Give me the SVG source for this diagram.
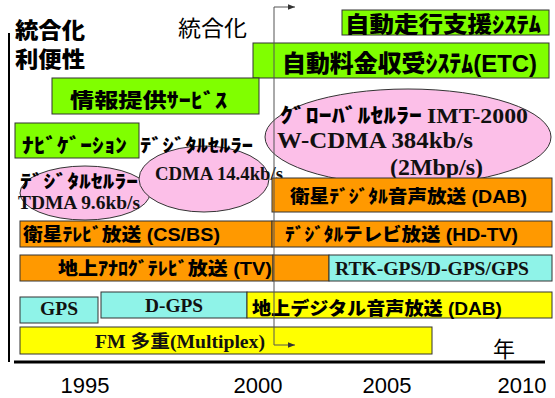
<svg xmlns="http://www.w3.org/2000/svg" width="555" height="398" viewBox="0 0 555 398">
<defs>
<style>
.box{stroke:#333;stroke-width:1}
.g{fill:#80FF00}.o{fill:#FF9900}.c{fill:#8FF3E8}.y{fill:#FFFF00}
.el{fill:#FCBFE8;stroke:#333;stroke-width:1}
.jb{font-family:"Liberation Sans","Noto Sans CJK JP",sans-serif;font-weight:900;fill:#000}
.sb{font-family:"Liberation Serif","Noto Sans CJK JP",serif;font-weight:bold;fill:#111}
.n{font-family:"Liberation Sans","Noto Sans CJK JP",sans-serif;font-weight:normal;fill:#000}
.tl{stroke:#555;stroke-width:1;fill:none}
</style>
<marker id="arr" viewBox="0 0 10 10" refX="10" refY="5" markerWidth="7" markerHeight="7" orient="auto">
<path d="M0,1 L10,5 L0,9 z" fill="#333"/>
</marker>
</defs>
<rect width="555" height="398" fill="#fff"/>

<g id="axes">
<line x1="9" y1="33" x2="9" y2="362" stroke="#000" stroke-width="2"/>
<line x1="14" y1="362" x2="545" y2="362" stroke="#000" stroke-width="3"/>
<text class="jb" x="15" y="38" font-size="22" textLength="70" lengthAdjust="spacingAndGlyphs">統合化</text>
<text class="jb" x="15" y="67" font-size="22" textLength="70" lengthAdjust="spacingAndGlyphs">利便性</text>
<text class="n" x="178" y="36" font-size="22" textLength="69" lengthAdjust="spacingAndGlyphs">統合化</text>
<text class="n" x="493" y="357" font-size="22">年</text>
<text class="n" x="85" y="393" font-size="22" text-anchor="middle">1995</text>
<text class="n" x="258" y="393" font-size="22" text-anchor="middle">2000</text>
<text class="n" x="387" y="393" font-size="22" text-anchor="middle">2005</text>
<text class="n" x="522" y="393" font-size="22" text-anchor="middle">2010</text>
</g>

<g id="n-jidousoukou">
<rect class="box g" x="342" y="10" width="207" height="25"/>
<text class="jb" x="345" y="32" font-size="22" textLength="196" lengthAdjust="spacingAndGlyphs">自動走行支援ｼｽﾃﾑ</text>
</g>
<g id="n-etc">
<rect class="box g" x="253" y="43" width="296" height="35"/>
<text class="jb" x="282" y="72" font-size="24" textLength="255" lengthAdjust="spacingAndGlyphs">自動料金収受ｼｽﾃﾑ(ETC)</text>
</g>
<g id="n-jouhou">
<rect class="box g" x="52" y="78" width="207" height="36"/>
<text class="jb" x="70" y="108" font-size="20" textLength="157" lengthAdjust="spacingAndGlyphs">情報提供ｻｰﾋﾞｽ</text>
</g>
<g id="n-navi">
<rect class="box g" x="15" y="123" width="124" height="35"/>
<text class="jb" x="22" y="153" font-size="20" textLength="105" lengthAdjust="spacingAndGlyphs">ﾅﾋﾞｹﾞｰｼｮﾝ</text>
</g>

<g id="n-imt">
<ellipse class="el" cx="408" cy="137" rx="143" ry="48"/>
<text class="jb" x="280" y="123" font-size="20" textLength="142" lengthAdjust="spacingAndGlyphs">ｸﾞﾛｰﾊﾞﾙｾﾙﾗｰ</text>
<text class="sb" x="427" y="123" font-size="22" textLength="101" lengthAdjust="spacingAndGlyphs">IMT-2000</text>
<text class="sb" x="277" y="148" font-size="23" textLength="196" lengthAdjust="spacingAndGlyphs">W-CDMA 384kb/s</text>
<text class="sb" x="390" y="175" font-size="23" textLength="93" lengthAdjust="spacingAndGlyphs">(2Mbp/s)</text>
</g>

<g id="n-tdma">
<ellipse class="el" cx="85" cy="193" rx="65" ry="27"/>
<text class="jb" x="20" y="188" font-size="18" textLength="118" lengthAdjust="spacingAndGlyphs">ﾃﾞｼﾞﾀﾙｾﾙﾗｰ</text>
<text class="sb" x="18" y="209" font-size="18" textLength="122" lengthAdjust="spacingAndGlyphs">TDMA 9.6kb/s</text>
</g>
<g id="n-cdma">
<ellipse class="el" cx="204" cy="179" rx="65" ry="33"/>
<text class="jb" x="140" y="152" font-size="18" textLength="113" lengthAdjust="spacingAndGlyphs">ﾃﾞｼﾞﾀﾙｾﾙﾗｰ</text>
<text class="sb" x="155" y="180" font-size="18" textLength="128" lengthAdjust="spacingAndGlyphs">CDMA 14.4kb/s</text>
</g>

<g id="n-dab-sat">
<rect class="box o" x="272" y="178" width="280" height="34"/>
<text class="jb" x="290" y="203" font-size="18" textLength="237" lengthAdjust="spacingAndGlyphs">衛星ﾃﾞｼﾞﾀﾙ音声放送 (DAB)</text>
</g>
<g id="n-csbs">
<rect class="box o" x="20" y="221" width="252" height="26"/>
<text class="jb" x="23" y="241" font-size="18" textLength="197" lengthAdjust="spacingAndGlyphs">衛星ﾃﾚﾋﾞ放送 (CS/BS)</text>
</g>
<g id="n-hdtv">
<rect class="box o" x="272" y="221" width="280" height="26"/>
<text class="jb" x="285" y="241" font-size="18" textLength="233" lengthAdjust="spacingAndGlyphs">ﾃﾞｼﾞﾀﾙテレビ放送 (HD-TV)</text>
</g>
<g id="n-tv">
<rect class="box o" x="20" y="255" width="253" height="26"/>
<rect class="box o" x="273" y="255" width="56" height="26"/>
<text class="jb" x="58" y="275" font-size="18" textLength="214" lengthAdjust="spacingAndGlyphs">地上ｱﾅﾛｸﾞﾃﾚﾋﾞ放送 (TV)</text>
</g>
<g id="n-rtk">
<rect class="box c" x="329" y="255" width="223" height="26"/>
<text class="sb" x="335" y="275" font-size="19" textLength="194" lengthAdjust="spacingAndGlyphs">RTK-GPS/D-GPS/GPS</text>
</g>
<g id="n-gps">
<rect class="box c" x="20" y="297" width="78" height="26"/>
<text class="sb" x="40" y="315" font-size="18" textLength="38" lengthAdjust="spacingAndGlyphs">GPS</text>
</g>
<g id="n-dgps">
<rect class="box c" x="101" y="292" width="146" height="26"/>
<text class="sb" x="145" y="312" font-size="18" textLength="58" lengthAdjust="spacingAndGlyphs">D-GPS</text>
</g>
<g id="n-dab-terr">
<rect class="box y" x="247" y="292" width="305" height="26"/>
<text class="jb" x="252" y="315" font-size="18" textLength="250" lengthAdjust="spacingAndGlyphs">地上デジタル音声放送 (DAB)</text>
</g>
<g id="n-fm">
<rect class="box y" x="20" y="327" width="412" height="27"/>
<text class="sb" x="95" y="348" font-size="18" textLength="170" lengthAdjust="spacingAndGlyphs">FM 多重(Multiplex)</text>
</g>

<g id="connectors">
<line class="tl" x1="274" y1="7" x2="274" y2="345"/>
<line class="tl" x1="274" y1="7" x2="295" y2="7" marker-end="url(#arr)"/>
<line class="tl" x1="274" y1="345" x2="295" y2="345" marker-end="url(#arr)"/>
</g>
</svg>
